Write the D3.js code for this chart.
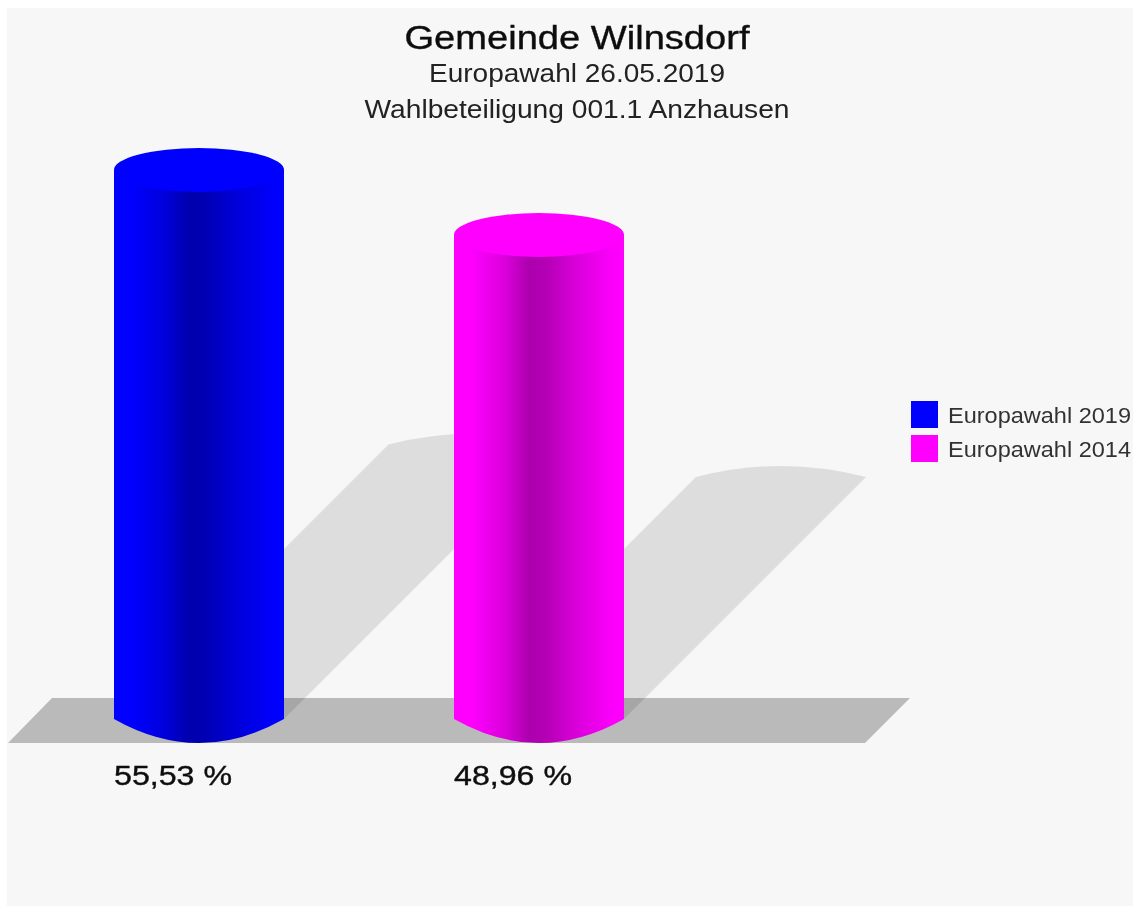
<!DOCTYPE html>
<html>
<head>
<meta charset="utf-8">
<script src="https://cdn.jsdelivr.net/npm/d3@7"></script>
<style>
  html, body { margin: 0; padding: 0; background: #fff; }
  svg { display: block; }
  text { font-family: "Liberation Sans", Arial, sans-serif; }
</style>
</head>
<body>
<div id="chart"></div>
<script>
const titles = ["Gemeinde Wilnsdorf", "Europawahl 26.05.2019", "Wahlbeteiligung 001.1 Anzhausen"];
const categories = ["Europawahl 2019", "Europawahl 2014"];
const turnout = [55.53, 48.96];
const valueLabels = ["55,53 %", "48,96 %"];
const barColors = ["#0000ff", "#ff00ff"];

const width = 1133, height = 907;
const baseY = 719, rx = 85, ryTop = 22, sag = 24;

let svg = d3.select("#chart").append("svg")
    .attr("width", width)
    .attr("height", height);

let y = d3.scaleLinear().domain([0, 55.53]).range([baseY, 170]);
let x = d3.scaleBand().domain(categories).range([29, 709]).paddingInner(0.5).paddingOuter(0.25);

// body shading, one gradient per bar: [offset, brightness]
const shading = [[0, 1], [0.1, 1], [0.3, 0.86], [0.44, 0.68], [0.54, 0.7], [0.7, 0.84], [0.92, 0.98], [1, 1]];
let defs = svg.append("defs");
categories.forEach((c, i) => {
  let g = defs.append("linearGradient").attr("id", "body" + i);
  shading.forEach(s => g.append("stop")
    .attr("offset", s[0])
    .attr("stop-color", d3.interpolateRgb("#000", barColors[i])(s[1])));
});

// slightly soft edges, the reference is a scaled up raster
let soft = defs.append("filter").attr("id", "soft");
soft.append("feGaussianBlur").attr("stdDeviation", 0.6);

svg.append("rect")
    .attr("x", 7).attr("y", 8)
    .attr("width", width - 7).attr("height", height - 8 - 1)
    .attr("fill", "#f7f7f7");

// floor
let floor = d3.path();
floor.moveTo(52, 698);
floor.lineTo(910, 698);
floor.lineTo(865, 743);
floor.lineTo(8, 743);
floor.closePath();
svg.append("path").attr("d", floor.toString()).attr("fill", "#bababa").attr("filter", "url(#soft)");

// shadows lie at 45 degrees, half as long as the bar
function shadowPath(d, i) {
  let cx = x(categories[i]) + x.bandwidth() / 2;
  let len = (baseY - y(d)) * 0.5;
  let p = d3.path();
  p.moveTo(cx - rx, baseY);
  p.lineTo(cx - rx + len, baseY - len);
  p.quadraticCurveTo(cx + len, baseY - len - 22, cx + rx + len, baseY - len);
  p.lineTo(cx + rx, baseY);
  p.closePath();
  return p.toString();
}

svg.selectAll(".shadow")
    .data(turnout)
    .enter().append("path")
    .attr("class", "shadow")
    .attr("d", shadowPath)
    .attr("fill", "#000")
    .attr("fill-opacity", 0.105)
    .attr("filter", "url(#soft)");

let bars = svg.selectAll(".bar")
    .data(turnout)
    .enter().append("g")
    .attr("class", "bar")
    .attr("filter", "url(#soft)");

bars.append("path")
    .attr("d", (d, i) => {
      let cx = x(categories[i]) + x.bandwidth() / 2, top = y(d);
      return `M${cx - rx},${top}L${cx - rx},${baseY}Q${cx},${baseY + 2 * sag} ${cx + rx},${baseY}L${cx + rx},${top}Z`;
    })
    .attr("fill", (d, i) => "url(#body" + i + ")");

bars.append("ellipse")
    .attr("cx", (d, i) => x(categories[i]) + x.bandwidth() / 2)
    .attr("cy", d => y(d))
    .attr("rx", rx)
    .attr("ry", ryTop)
    .attr("fill", (d, i) => barColors[i]);

let texts = svg.append("g").attr("filter", "url(#soft)");

texts.selectAll(".value")
    .data(valueLabels)
    .enter().append("text")
    .attr("class", "value")
    .attr("x", (d, i) => x(categories[i]) + x.bandwidth() / 2 - rx)
    .attr("y", 785)
    .attr("font-size", 27.5)
    .attr("textLength", 118)
    .attr("lengthAdjust", "spacingAndGlyphs")
    .attr("fill", "#111")
    .attr("stroke", "#111")
    .attr("stroke-width", 0.4)
    .text(d => d);

texts.selectAll(".title")
    .data(titles)
    .enter().append("text")
    .attr("class", "title")
    .attr("x", 577)
    .attr("y", (d, i) => [49, 82, 118][i])
    .attr("text-anchor", "middle")
    .attr("font-size", (d, i) => i == 0 ? 34 : 26)
    .attr("textLength", (d, i) => [345, 296, 425][i])
    .attr("lengthAdjust", "spacingAndGlyphs")
    .attr("fill", (d, i) => i == 0 ? "#111" : "#222")
    .attr("stroke", (d, i) => i == 0 ? "#111" : "none")
    .attr("stroke-width", 0.4)
    .text(d => d);

// legend
let legend = svg.selectAll(".legend")
    .data(categories)
    .enter().append("g")
    .attr("class", "legend");

legend.append("rect")
    .attr("x", 911)
    .attr("y", (d, i) => 401 + i * 34)
    .attr("width", 27)
    .attr("height", 27)
    .attr("fill", (d, i) => barColors[i]);

texts.selectAll(".legend-label")
    .data(categories)
    .enter().append("text")
    .attr("class", "legend-label")
    .attr("x", 948)
    .attr("y", (d, i) => 423 + i * 34)
    .attr("font-size", 21.5)
    .attr("textLength", 183)
    .attr("lengthAdjust", "spacingAndGlyphs")
    .attr("fill", "#333")
    .text(d => d);
</script>
</body>
</html>
